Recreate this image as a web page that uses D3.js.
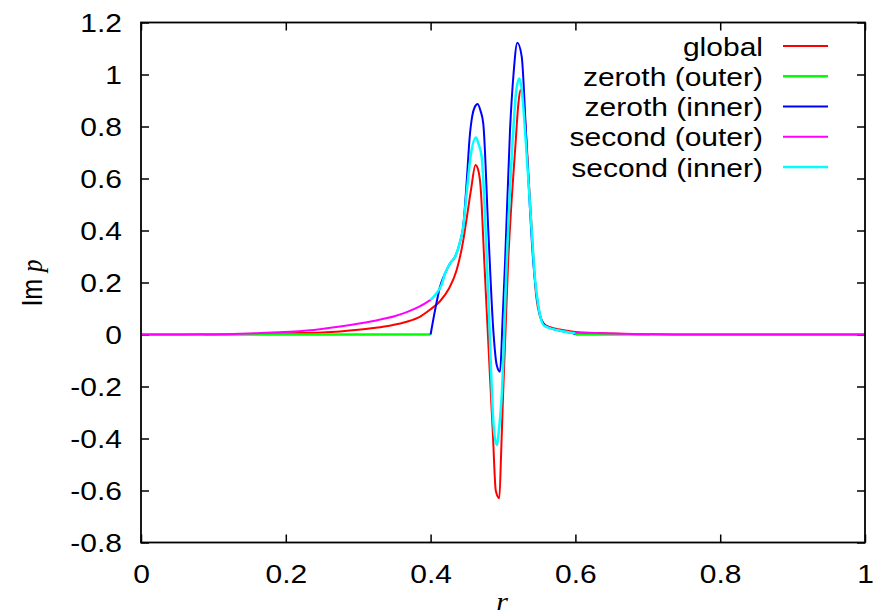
<!DOCTYPE html>
<html>
<head>
<meta charset="utf-8">
<script src="https://cdn.jsdelivr.net/npm/d3@7"></script>
<style>
  html, body { margin: 0; padding: 0; background: #fff; }
  svg { display: block; }
  text { font-family: "Liberation Sans", Arial, Helvetica, sans-serif; fill: #000; }
</style>
</head>
<body>
<svg id="chart" width="879" height="615"></svg>
<script>
// ---------------- data ----------------
const xTicks = [0, 0.2, 0.4, 0.6, 0.8, 1];
const xTickLabels = ["0", "0.2", "0.4", "0.6", "0.8", "1"];
const yTicks = [-0.8, -0.6, -0.4, -0.2, 0, 0.2, 0.4, 0.6, 0.8, 1, 1.2];
const yTickLabels = ["-0.8", "-0.6", "-0.4", "-0.2", "0", "0.2", "0.4", "0.6", "0.8", "1", "1.2"];

const seriesNames = ["global", "zeroth (outer)", "zeroth (inner)", "second (outer)", "second (inner)"];
const seriesColors = ["#ff0000", "#00ff00", "#0000ff", "#ff00ff", "#00ffff"];

// [r, Im p]
const globalData = [
  [0, 0], [0.1, 0.001], [0.15, 0.002], [0.206, 0.005], [0.25, 0.008], [0.275, 0.012],
  [0.3, 0.018], [0.321, 0.025], [0.345, 0.035], [0.367, 0.049], [0.385, 0.068], [0.399, 0.095],
  [0.413, 0.128], [0.425, 0.175], [0.436, 0.248], [0.445, 0.36], [0.45, 0.45], [0.456, 0.56],
  [0.462, 0.652], [0.466, 0.63], [0.469, 0.57], [0.474, 0.29], [0.478, 0.065], [0.482, -0.16],
  [0.486, -0.38], [0.490, -0.6], [0.4949, -0.63], [0.4975, -0.45], [0.500, -0.24], [0.507, 0.274],
  [0.512, 0.52], [0.517, 0.72], [0.521, 0.88], [0.524, 0.94], [0.529, 0.876], [0.537, 0.53],
  [0.546, 0.145], [0.551, 0.07], [0.556, 0.043], [0.565, 0.028], [0.58, 0.018], [0.6, 0.01],
  [0.65, 0.004], [0.7, 0.001], [0.75, 0], [1, 0]
];
const zerothOuterLeft = [[0.086, 0], [0.4, 0]];
const zerothOuterRight = [[0.6, 0], [0.703, 0]];
const zerothInnerData = [
  [0.4, 0], [0.4066, 0.1], [0.413, 0.184], [0.42, 0.235], [0.427, 0.274], [0.434, 0.30],
  [0.441, 0.36], [0.445, 0.415], [0.45, 0.594], [0.454, 0.76], [0.4575, 0.84], [0.461, 0.875],
  [0.465, 0.887], [0.469, 0.86], [0.4728, 0.81], [0.4797, 0.40], [0.4866, 0.017], [0.4913, -0.117],
  [0.4959, -0.143], [0.4995, 0.06], [0.5028, 0.275], [0.5097, 0.787], [0.5145, 1.0], [0.5198, 1.122],
  [0.5258, 1.07], [0.5327, 0.72], [0.5419, 0.275], [0.5488, 0.107], [0.554, 0.05], [0.5603, 0.03],
  [0.575, 0.017], [0.59, 0.009], [0.5971, 0.005], [0.6, 0]
];
const secondOuterLeft = [
  [0, 0], [0.086, 0], [0.16, 0.005], [0.229, 0.015], [0.275, 0.031], [0.321, 0.052],
  [0.35, 0.07], [0.367, 0.086], [0.385, 0.108], [0.4, 0.133]
];
const secondOuterRight = [
  [0.6, 0.007], [0.65, 0.004], [0.7, 0.001], [0.75, 0], [1, 0]
];
const secondInnerData = [
  [0.4, 0.133], [0.408, 0.158], [0.415, 0.19], [0.42, 0.235], [0.427, 0.274], [0.434, 0.30],
  [0.441, 0.36], [0.445, 0.41], [0.45, 0.55], [0.455, 0.68], [0.4627, 0.758], [0.4665, 0.73],
  [0.4705, 0.684], [0.4797, 0.145], [0.487, -0.35], [0.4913, -0.425], [0.495, -0.35], [0.4982, -0.239],
  [0.5051, 0.275], [0.5143, 0.787], [0.518, 0.93], [0.5225, 0.985], [0.526, 0.94], [0.5304, 0.787],
  [0.5396, 0.40], [0.544, 0.22], [0.549, 0.107], [0.5565, 0.035], [0.575, 0.017], [0.59, 0.009],
  [0.6, 0.005]
];

// ---------------- layout ----------------
const svg = d3.select("#chart");
const M = { left: 141, right: 865, top: 22.5, bottom: 542.5 };
const FONT = 25, STRETCH = 1.2;

const x = d3.scaleLinear().domain([0, 1]).range([M.left, M.right]);
const y = d3.scaleLinear().domain([-0.8, 1.2]).range([M.bottom, M.top]);

svg.append("defs").append("clipPath").attr("id", "clip")
  .append("rect").attr("x", M.left).attr("y", M.top)
  .attr("width", M.right - M.left).attr("height", M.bottom - M.top);

// axes with inward ticks, mirrored
const axisStyle = g => {
  g.select(".domain").remove();
  g.selectAll(".tick line").attr("stroke", "#000").attr("stroke-width", 1.5);
};
svg.append("g").attr("transform", `translate(${M.left},0)`)
  .call(d3.axisLeft(y).tickValues(yTicks).tickSize(-8).tickFormat((d, i) => yTickLabels[i]))
  .call(axisStyle)
  .call(g => g.selectAll(".tick text")
    .attr("x", null).attr("dy", null)
    .attr("transform", `translate(-19,9) scale(${STRETCH},1)`)
    .attr("text-anchor", "end").style("font-size", FONT + "px")
    .style("font-family", "'Liberation Sans', Arial, sans-serif").attr("fill", "#000"));
svg.append("g").attr("transform", `translate(${M.right},0)`)
  .call(d3.axisRight(y).tickValues(yTicks).tickSize(-8).tickFormat(""))
  .call(axisStyle);
svg.append("g").attr("transform", `translate(0,${M.bottom})`)
  .call(d3.axisBottom(x).tickValues(xTicks).tickSize(-8).tickFormat((d, i) => xTickLabels[i]))
  .call(axisStyle)
  .call(g => g.selectAll(".tick text")
    .attr("y", null).attr("dy", null)
    .attr("transform", `translate(0,40.5) scale(${STRETCH},1)`)
    .attr("text-anchor", "middle").style("font-size", FONT + "px")
    .style("font-family", "'Liberation Sans', Arial, sans-serif").attr("fill", "#000"));
svg.append("g").attr("transform", `translate(0,${M.top})`)
  .call(d3.axisTop(x).tickValues(xTicks).tickSize(-8).tickFormat(""))
  .call(axisStyle);

// curves
const line = d3.line().x(d => x(d[0])).y(d => y(d[1])).curve(d3.curveMonotoneX);
const curves = [
  { name: 0, segs: [globalData], w: 2 },
  { name: 1, segs: [zerothOuterLeft, zerothOuterRight], w: 2.5 },
  { name: 2, segs: [zerothInnerData], w: 2 },
  { name: 3, segs: [secondOuterLeft, secondOuterRight], w: 2 },
  { name: 4, segs: [secondInnerData], w: 2.5 }
];
const plot = svg.append("g").attr("clip-path", "url(#clip)");
curves.forEach(c => {
  c.segs.forEach(s => {
    plot.append("path").attr("d", line(s)).attr("fill", "none")
      .attr("stroke", seriesColors[c.name]).attr("stroke-width", c.w)
      .attr("stroke-linejoin", "round");
  });
});

// frame
svg.append("rect").attr("x", M.left).attr("y", M.top)
  .attr("width", M.right - M.left).attr("height", M.bottom - M.top)
  .attr("fill", "none").attr("stroke", "#000").attr("stroke-width", 1.8);

// legend
const legRowY = d3.scaleLinear().domain([0, 4]).range([46, 167]);
const leg = svg.append("g");
seriesNames.forEach((n, i) => {
  const yy = legRowY(i);
  leg.append("text")
    .attr("transform", `translate(763,${yy + 9.5}) scale(${STRETCH},1)`)
    .attr("text-anchor", "end").style("font-size", FONT + "px").text(n);
  leg.append("line").attr("x1", 783).attr("x2", 828).attr("y1", yy).attr("y2", yy)
    .attr("stroke", seriesColors[i]).attr("stroke-width", curves[i].w);
});

// axis titles
svg.append("text")
  .attr("transform", `translate(502,610) scale(${STRETCH},1)`)
  .attr("text-anchor", "middle")
  .style("font-family", "'Liberation Serif', 'Times New Roman', serif")
  .style("font-style", "italic").style("font-size", FONT + "px").text("r");

const yl = svg.append("text")
  .attr("transform", `translate(42,283) scale(${STRETCH},1) rotate(-90)`)
  .attr("text-anchor", "middle").style("font-size", FONT + "px");
yl.append("tspan").text("Im ");
yl.append("tspan")
  .style("font-family", "'Liberation Serif', 'Times New Roman', serif")
  .style("font-style", "italic").text("p");
</script>
</body>
</html>
